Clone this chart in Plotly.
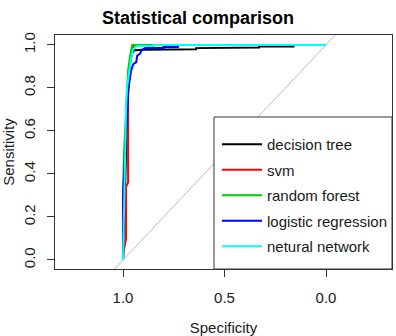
import plotly.graph_objects as go

# ---- data (specificity, sensitivity) ----
model_names = ["decision tree", "svm", "random forest", "logistic regression", "netural network"]
model_colors = ["#000000", "#FF0000", "#00CD00", "#0000FF", "#00FFFF"]

tree_spec = [1.0, 0.995, 0.985, 0.975, 0.965, 0.955, 0.945, 0.90, 0.82, 0.82, 0.64, 0.64, 0.49, 0.49, 0.33, 0.33, 0.16, 0.16, 0.0]
tree_sens = [0.0, 0.2, 0.5, 0.8, 0.92, 0.96, 0.975, 0.977, 0.977, 0.98, 0.98, 0.985, 0.985, 0.988, 0.988, 0.993, 0.993, 1.0, 1.0]

svm_spec = [1.0, 0.995, 0.985, 0.985, 0.975, 0.975, 0.965, 0.955, 0.95, 0.94, 0.0]
svm_sens = [0.0, 0.05, 0.1, 0.34, 0.36, 0.83, 0.93, 0.975, 0.99, 1.0, 1.0]

rf_spec = [1.0, 1.0, 0.995, 0.99, 0.985, 0.975, 0.965, 0.958, 0.955, 0.0]
rf_sens = [0.0, 0.3, 0.5, 0.6, 0.75, 0.88, 0.95, 0.985, 1.0, 1.0]

lr_spec = [1.0, 1.0, 0.995, 0.985, 0.975, 0.97, 0.96, 0.95, 0.935, 0.93, 0.915, 0.91, 0.89, 0.80, 0.80, 0.73, 0.73, 0.0]
lr_sens = [0.0, 0.3, 0.4, 0.6, 0.77, 0.82, 0.88, 0.91, 0.92, 0.95, 0.96, 0.975, 0.985, 0.985, 0.99, 0.99, 1.0, 1.0]

nn_spec = [1.0, 0.995, 0.99, 0.985, 0.98, 0.97, 0.96, 0.95, 0.93, 0.85, 0.85, 0.0]
nn_sens = [0.0, 0.25, 0.5, 0.7, 0.8, 0.88, 0.94, 0.98, 0.995, 0.995, 1.0, 1.0]

diag_spec = [1.046, -0.046]
diag_sens = [-0.046, 1.046]

x_ticks = [1.0, 0.5, 0.0]
x_ticktext = ["1.0", "0.5", "0.0"]
y_ticks = [0.0, 0.2, 0.4, 0.6, 0.8, 1.0]
y_ticktext = ["0.0", "0.2", "0.4", "0.6", "0.8", "1.0"]

series = [(tree_spec, tree_sens), (svm_spec, svm_sens), (rf_spec, rf_sens),
          (lr_spec, lr_sens), (nn_spec, nn_sens)]

FONT = "Liberation Sans, Arial, sans-serif"

fig = go.Figure()
fig.add_trace(go.Scatter(x=diag_spec, y=diag_sens, mode="lines",
                         line=dict(color="#BBBBBB", width=1),
                         showlegend=False, hoverinfo="skip"))
for i, ((sx, sy), name, col) in enumerate(zip(series, model_names, model_colors)):
    fig.add_trace(go.Scatter(x=sx, y=sy, mode="lines", name=name,
                             line=dict(color=col, width=2),
                             legendgroup="g%d" % i))

L, R, T, B = 55, 4, 35, 67
W, H = 396, 336
pw, ph = W - L - R, H - T - B

def px_x(p):
    return (p - L) / pw

def px_y(p):
    return (H - B - p) / ph

fig.update_layout(
    width=W, height=H,
    margin=dict(l=L, r=R, t=T, b=B, autoexpand=False),
    paper_bgcolor="white", plot_bgcolor="white",
    font=dict(family=FONT, size=15, color="#1a1a1a"),
    title=dict(text="<b>Statistical comparison</b>", x=px_x(223.5), xanchor="center",
               y=1 - 18 / H, yanchor="middle", font=dict(size=18, color="#000000")),
    xaxis=dict(range=[1.335, -0.325], tickvals=x_ticks, ticktext=x_ticktext,
               ticks="outside", ticklen=7, tickcolor="#333", tickwidth=1,
               showline=True, mirror=True, linecolor="#333", linewidth=1,
               showgrid=False, zeroline=False, ticklabelstandoff=8,
               title=dict(text="Specificity", standoff=17, font=dict(size=15)),
               automargin=True),
    yaxis=dict(range=[-0.042, 1.046], tickvals=y_ticks, ticktext=y_ticktext,
               ticks="outside", ticklen=7, tickcolor="#333", tickwidth=1,
               tickangle=-90, ticklabelstandoff=6,
               showline=True, mirror=True, linecolor="#333", linewidth=1,
               showgrid=False, zeroline=False,
               title=dict(text="Sensitivity", standoff=18, font=dict(size=15)),
               automargin=True),
    legend=dict(x=px_x(217), xanchor="left", y=px_y(128), yanchor="top",
                bgcolor="rgba(0,0,0,0)", borderwidth=0,
                tracegroupgap=3, traceorder="grouped", itemwidth=40,
                font=dict(size=15, color="#1a1a1a")),
    shapes=[dict(type="rect", xref="paper", yref="paper",
                 x0=px_x(214), x1=1, y0=0, y1=px_y(117),
                 line=dict(color="#333", width=1), fillcolor="white", layer="above")],
)

fig.write_html("out.html")
